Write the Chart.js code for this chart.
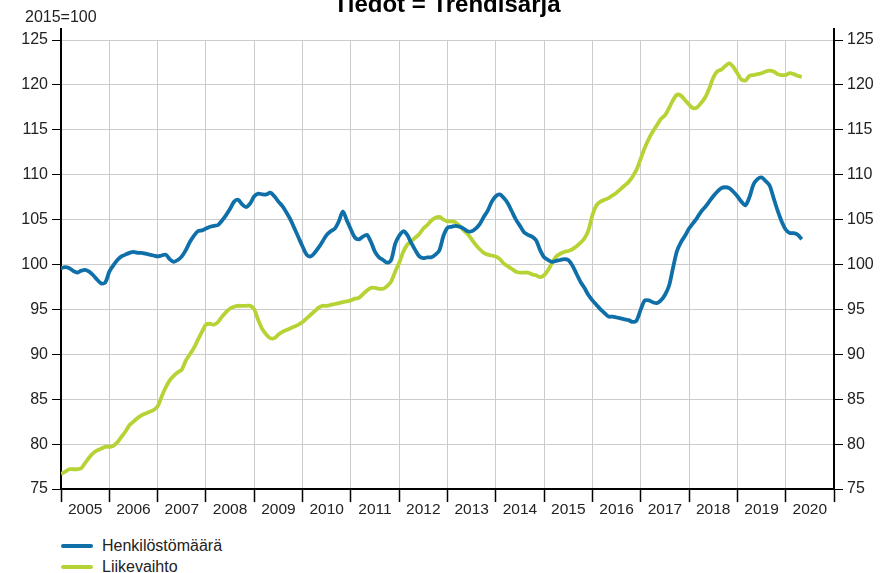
<!DOCTYPE html>
<html>
<head>
<meta charset="utf-8">
<script src="https://cdn.jsdelivr.net/npm/chart.js@4/dist/chart.umd.min.js"></script>
<style>
  body { margin: 0; background: #fff; overflow: hidden; }
  #wrap { position: relative; width: 884px; height: 573px; font-family: 'Liberation Sans', Arial, sans-serif; }
  #unit { position: absolute; left: 25px; top: 9px; font-size: 16px; line-height: 16px; color: #222; }
  #legend { position: absolute; left: 61px; top: 535px; font-size: 16px; color: #222; }
  #legend .row { display: flex; align-items: center; height: 21px; }
  #legend .swatch { width: 32px; height: 4px; margin-right: 9px; border-radius: 2px; }
</style>
</head>
<body>
<div id="wrap">
  <canvas id="chart" width="884" height="529"></canvas>
  <div id="unit">2015=100</div>
  <div id="legend"></div>
</div>
<script>
// monthly trend series, Jan 2005 onwards
var startYear = 2005;
var yearLabels = ["2005", "2006", "2007", "2008", "2009", "2010", "2011", "2012",
  "2013", "2014", "2015", "2016", "2017", "2018", "2019", "2020"];

var henkilostomaara = [
  99.6, 99.7, 99.6, 99.3, 99.1, 99.3, 99.4, 99.2, 98.8, 98.3, 97.9, 98.0,
  99.2, 99.9, 100.5, 100.9, 101.1, 101.3, 101.4, 101.3, 101.3, 101.2, 101.1, 101.0,
  100.9, 101.0, 101.1, 100.6, 100.3, 100.5, 100.9, 101.6, 102.5, 103.2, 103.7, 103.8,
  104.0, 104.2, 104.3, 104.4, 104.9, 105.5, 106.2, 107.0, 107.2, 106.7, 106.4, 106.8,
  107.6, 107.9, 107.8, 107.8, 108.0, 107.6, 107.0, 106.5, 105.8, 105.0, 104.0, 103.0,
  102.0, 101.1, 100.9, 101.3, 101.9, 102.6, 103.3, 103.7, 104.0, 104.8, 105.9, 104.9,
  103.9, 103.0, 102.8, 103.1, 103.3, 102.5, 101.4, 100.8, 100.5, 100.2, 100.5, 102.3,
  103.2, 103.7, 103.3, 102.4, 101.6, 100.9, 100.7, 100.8, 100.8, 101.1, 101.6, 103.2,
  104.1, 104.2, 104.3, 104.2, 104.0, 103.7, 103.7, 104.0, 104.5, 105.3, 106.0, 107.0,
  107.6, 107.8, 107.4, 106.8, 105.9, 105.0, 104.3, 103.6, 103.3, 103.1, 102.7, 101.6,
  100.8, 100.5, 100.3, 100.4, 100.5, 100.6, 100.5, 99.9, 99.0, 98.1, 97.4, 96.6,
  96.0, 95.5, 95.0, 94.6, 94.2, 94.2, 94.1, 94.0, 93.9, 93.8, 93.6, 93.8,
  95.0, 96.0, 96.0, 95.8, 95.7, 96.0, 96.6, 97.6, 99.6, 101.5, 102.5, 103.2,
  104.0, 104.6, 105.2, 105.9, 106.4, 107.0, 107.6, 108.1, 108.5, 108.6, 108.5, 108.1,
  107.6, 107.0, 106.6, 107.5, 108.9, 109.5, 109.7, 109.3, 108.8, 107.4, 106.0, 104.8,
  103.9, 103.5, 103.5, 103.3, 102.8
];

var liikevaihto = [
  76.7, 76.9, 77.2, 77.2, 77.2, 77.3, 77.9, 78.5, 79.0, 79.3, 79.5, 79.7,
  79.7, 79.8, 80.2, 80.8, 81.4, 82.1, 82.5, 82.9, 83.2, 83.4, 83.6, 83.8,
  84.2, 85.3, 86.3, 87.1, 87.6, 88.0, 88.3, 89.3, 90.0, 90.7, 91.6, 92.5,
  93.3, 93.4, 93.3, 93.6, 94.2, 94.7, 95.1, 95.3, 95.4, 95.4, 95.4, 95.4,
  95.0, 93.8, 92.8, 92.2, 91.8, 91.8, 92.2, 92.5, 92.7, 92.9, 93.1, 93.3,
  93.6, 94.0, 94.4, 94.8, 95.2, 95.4, 95.4, 95.5, 95.6, 95.7, 95.8, 95.9,
  96.0, 96.2, 96.3, 96.7, 97.1, 97.4, 97.4, 97.3, 97.3, 97.6, 98.1, 99.2,
  100.2, 101.4, 102.2, 102.6, 103.0, 103.4, 104.0, 104.4, 104.9, 105.2, 105.3, 105.0,
  104.8, 104.8, 104.7, 104.3, 103.8, 103.4, 102.8, 102.2, 101.7, 101.3, 101.1, 101.0,
  100.9, 100.6, 100.1, 99.8, 99.5, 99.2, 99.1, 99.1, 99.1, 98.9, 98.8, 98.6,
  98.8, 99.4, 100.2, 100.9, 101.2, 101.4, 101.5, 101.7, 102.0, 102.4, 102.9, 103.8,
  105.5, 106.6, 107.0, 107.2, 107.4, 107.7, 108.0, 108.4, 108.8, 109.2, 109.8, 110.6,
  111.8, 113.0, 114.0, 114.8, 115.5, 116.2, 116.6, 117.4, 118.3, 118.9, 118.8, 118.3,
  117.8, 117.4, 117.5, 118.0, 118.6, 119.6, 120.8, 121.5, 121.7, 122.1, 122.4, 122.0,
  121.3, 120.6, 120.5, 121.0, 121.1, 121.2, 121.3, 121.5, 121.6, 121.5, 121.2, 121.1,
  121.1, 121.3, 121.2, 121.0, 120.9
];

var FONT = "'Liberation Sans', Arial, sans-serif";
Chart.defaults.font.family = FONT;

function toPoints(values) {
  return values.map(function (v, i) {
    return { x: startYear + i / 12, y: v };
  });
}

// year boundaries carry grid lines, mid-years carry the labels
var xTicks = [];
yearLabels.forEach(function (lbl, i) {
  xTicks.push(startYear + i);
  xTicks.push(startYear + i + 0.5);
});
xTicks.push(startYear + yearLabels.length);

function isBoundary(ctx) {
  return ctx.tick && ctx.tick.value % 1 === 0;
}

var axisExtension = {
  id: "axisExtension",
  afterDraw: function (chart) {
    var a = chart.chartArea, ctx = chart.ctx;
    ctx.save();
    ctx.strokeStyle = "#000";
    ctx.lineWidth = 2;
    ctx.beginPath();
    ctx.moveTo(a.left, a.top);
    ctx.lineTo(a.left, a.top - 12);
    ctx.moveTo(a.right, a.top);
    ctx.lineTo(a.right, a.top - 12);
    ctx.stroke();
    ctx.restore();
  }
};

var htmlLegend = {
  id: "htmlLegend",
  afterUpdate: function (chart) {
    var box = document.getElementById("legend");
    box.innerHTML = "";
    chart.data.datasets.forEach(function (ds) {
      var row = document.createElement("div");
      row.className = "row";
      var sw = document.createElement("span");
      sw.className = "swatch";
      sw.style.background = ds.borderColor;
      var txt = document.createElement("span");
      txt.textContent = ds.label;
      row.appendChild(sw);
      row.appendChild(txt);
      box.appendChild(row);
    });
  }
};

new Chart(document.getElementById("chart"), {
  type: "line",
  data: {
    datasets: [
      {
        label: "Henkilöstömäärä",
        data: toPoints(henkilostomaara),
        borderColor: "#0f6fa8",
        borderWidth: 3.8,
        pointRadius: 0,
        tension: 0.3,
        yAxisID: "y"
      },
      {
        label: "Liikevaihto",
        data: toPoints(liikevaihto),
        borderColor: "#b5d334",
        borderWidth: 3.8,
        pointRadius: 0,
        tension: 0.3,
        yAxisID: "y"
      }
    ]
  },
  options: {
    responsive: false,
    animation: false,
    devicePixelRatio: 1,
    layout: { padding: { left: 18, right: 8, top: 0, bottom: 0 } },
    plugins: {
      legend: { display: false },
      tooltip: { enabled: false },
      title: {
        display: true,
        text: "Tiedot = Trendisarja",
        color: "#000",
        font: { size: 24, weight: "bold", lineHeight: 0.275 },
        padding: { top: 2.4, bottom: 31 }
      }
    },
    scales: {
      x: {
        type: "linear",
        min: startYear,
        max: startYear + yearLabels.length,
        afterBuildTicks: function (s) {
          s.ticks = xTicks.map(function (v) { return { value: v }; });
        },
        afterFit: function (s) { s.height = 40; },
        ticks: {
          autoSkip: false,
          maxRotation: 0,
          padding: -2,
          color: "#222",
          font: { size: 15.5 },
          callback: function (v) {
            return v % 1 ? yearLabels[Math.floor(v) - startYear] : "";
          }
        },
        grid: {
          color: function (ctx) { return isBoundary(ctx) ? "#cccccc" : "rgba(0,0,0,0)"; },
          tickColor: function (ctx) { return isBoundary(ctx) ? "#000" : "rgba(0,0,0,0)"; },
          tickLength: 13,
          tickWidth: 1.5
        },
        border: { color: "#000", width: 2 }
      },
      y: {
        position: "left",
        min: 75,
        max: 125,
        afterFit: function (s) { s.width = 43; },
        ticks: { stepSize: 5, padding: 4, color: "#222", font: { size: 16 } },
        grid: { color: "#cccccc", tickColor: "#000", tickLength: 9 },
        border: { color: "#000", width: 2 }
      },
      y2: {
        position: "right",
        min: 75,
        max: 125,
        afterFit: function (s) { s.width = 42; },
        ticks: { stepSize: 5, padding: 4, color: "#222", font: { size: 16 } },
        grid: { drawOnChartArea: false, tickColor: "#000", tickLength: 9 },
        border: { color: "#000", width: 2 }
      }
    }
  },
  plugins: [axisExtension, htmlLegend]
});
</script>
</body>
</html>
